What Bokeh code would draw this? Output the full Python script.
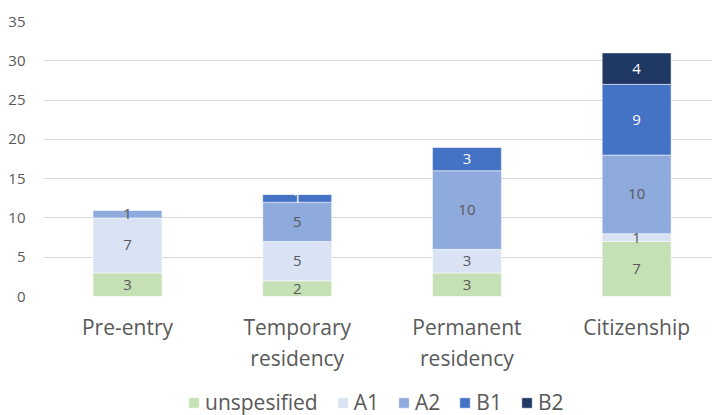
import numpy as np
from bokeh.plotting import figure
from bokeh.layouts import column
from bokeh.models import ColumnDataSource, Range1d, FixedTicker, Legend, LegendItem, LinearAxis
from bokeh.embed import file_html
from bokeh.resources import INLINE
from bokeh.core.properties import value

categories = ["Pre-entry", "Temporary residency", "Permanent residency", "Citizenship"]
tick_line1 = ["Pre-entry", "Temporary", "Permanent", "Citizenship"]
tick_line2 = ["", "residency", "residency", ""]
series = ["unspesified", "A1", "A2", "B1", "B2"]
unspesified = [3, 2, 3, 7]
a1 = [7, 5, 3, 1]
a2 = [1, 5, 10, 10]
b1 = [0, 1, 3, 9]
b2 = [0, 0, 0, 4]
y_ticks = [0, 5, 10, 15, 20, 25, 30, 35]

colors = ["#C5E0B4", "#DAE3F3", "#8FAADC", "#4472C4", "#203864"]
label_colors = ["#595959", "#595959", "#595959", "#FFFFFF", "#FFFFFF"]
FONT = "Open Sans"
GRAY = "#595959"

xs = [i + 0.5 for i in range(len(categories))]
data = {"x": xs, "unspesified": unspesified, "A1": a1, "A2": a2, "B1": b1, "B2": b2}
source = ColumnDataSource(data)

p = figure(frame_width=669, frame_height=275, x_range=Range1d(0.005, 3.947), y_range=Range1d(0, 35),
           output_backend="svg", toolbar_location=None, x_axis_location=None,
           min_border_left=43, min_border_right=0, min_border_top=21, min_border_bottom=90)

renderers = p.vbar_stack(series, x="x", width=0.406, fill_color=colors,
                         line_color="white", line_width=0.5, source=source)

# data labels
vals = np.array([unspesified, a1, a2, b1, b2], dtype=float)
tops = np.cumsum(vals, axis=0)
lx, ly, lt, lc = [], [], [], []
for si in range(len(series)):
    for ci in range(len(categories)):
        v = vals[si, ci]
        if v > 0:
            lx.append(xs[ci])
            ly.append(tops[si, ci] - v / 2)
            lt.append(str(int(v)))
            lc.append(label_colors[si])
lsrc = ColumnDataSource(dict(x=lx, y=ly, text=lt, color=lc))
p.text(x="x", y="y", text="text", text_color="color", source=lsrc,
       text_align="center", text_baseline="middle",
       text_font=value(FONT), text_font_size="15px")


def make_xaxis(labels, standoff):
    ax = LinearAxis(ticker=FixedTicker(ticks=xs))
    ax.major_label_overrides = {x: t for x, t in zip(xs, labels)}
    ax.major_label_text_font = FONT
    ax.major_label_text_font_size = "21px"
    ax.major_label_text_color = GRAY
    ax.major_label_standoff = standoff
    ax.axis_line_color = None
    ax.major_tick_line_color = None
    ax.minor_tick_line_color = None
    ax.major_tick_out = 0
    ax.major_tick_in = 0
    return ax


p.add_layout(make_xaxis(tick_line1, 16), "below")
p.add_layout(make_xaxis(tick_line2, 0), "below")

p.yaxis.ticker = FixedTicker(ticks=y_ticks)
p.yaxis.major_label_text_font = FONT
p.yaxis.major_label_text_font_size = "15px"
p.yaxis.major_label_text_color = GRAY
p.yaxis.major_label_standoff = 18
p.yaxis.axis_line_color = None
p.yaxis.major_tick_line_color = None
p.yaxis.minor_tick_line_color = None
p.yaxis.major_tick_out = 0

p.xgrid.grid_line_color = None
p.ygrid.grid_line_color = "#D9D9D9"
p.ygrid.grid_line_width = 1
p.outline_line_color = None

# legend strip below the chart (its bars lie outside its visible range; only the key shows)
lp = figure(width=712, height=29, output_backend="svg", toolbar_location=None,
            x_range=Range1d(100, 101), y_range=Range1d(100, 101),
            x_axis_location=None, y_axis_location=None,
            min_border_left=0, min_border_right=0, min_border_top=0, min_border_bottom=0)
lp.grid.visible = False
lp.outline_line_color = None
key_renderers = lp.vbar_stack(series, x="x", width=0.406, fill_color=colors,
                              line_color="white", line_width=0.5, source=source)
legend = Legend(items=[LegendItem(label=s, renderers=[r]) for s, r in zip(series, key_renderers)],
                orientation="horizontal", location=(144, -1))
legend.label_text_font = FONT
legend.label_text_font_size = "21px"
legend.label_text_color = GRAY
legend.glyph_width = 13
legend.glyph_height = 13
legend.label_standoff = 5
legend.spacing = 18
legend.padding = 0
legend.margin = 0
legend.border_line_color = None
legend.background_fill_alpha = 0
lp.add_layout(legend, "center")

layout = column(p, lp, spacing=0)
open("out.html", "w").write(file_html(layout, INLINE))
